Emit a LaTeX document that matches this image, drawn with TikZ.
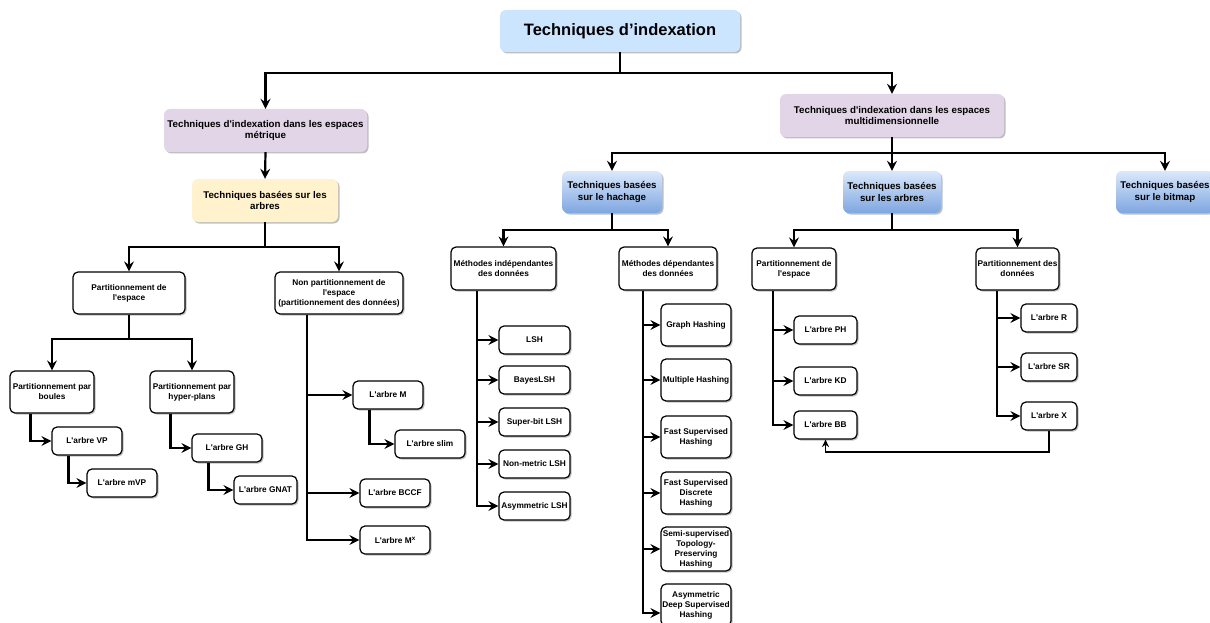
\documentclass[tikz,border=0pt]{standalone}
\usepackage{fontspec}
\setmainfont{Liberation Sans}
\newfontfamily\lib{Liberation Sans}
\usetikzlibrary{arrows.meta,shadows}
\definecolor{rootblue}{HTML}{CCE5FF}
\definecolor{lilac}{HTML}{E1D5E7}
\definecolor{cream}{HTML}{FFF2CC}
\definecolor{bluetop}{HTML}{DAE8FC}
\definecolor{bluebot}{HTML}{7EA6E0}
\begin{document}
\begin{tikzpicture}[x=1pt,y=-1pt,
  shad/.style={drop shadow={shadow xshift=1.5pt,shadow yshift=-1.5pt,opacity=0.25,fill=black}},
  box/.style={draw=black,line width=1.2pt,rounded corners=5pt,fill=white,shad,align=center,inner sep=0pt,font=\lib\bfseries\fontsize{8.3}{10}\selectfont},
  leaf/.style={box,minimum width=70pt,minimum height=28pt},
  tall/.style={box,minimum width=70pt,minimum height=42pt},
  mid/.style={rounded corners=6pt,shad,align=center,inner sep=0pt,font=\lib\bfseries\fontsize{9.75}{11.3}\selectfont,minimum height=43pt},
  bluebox/.style={mid,top color=bluetop,bottom color=bluebot,minimum width=98pt,minimum height=42pt},
  conn/.style={line width=2.2pt,-{Stealth[length=10pt,width=10pt,inset=3.5pt]}},
  thin/.style={line width=1.4pt,-{Stealth[length=7.5pt,width=7pt,inset=2.5pt]}}
]
\useasboundingbox (0,0) rectangle (1210,623);

% top levels
\node[mid,fill=rootblue,minimum width=240pt,minimum height=42pt,font=\lib\bfseries\fontsize{16.5}{19}\selectfont] (root) at (620,31) {Techniques d’indexation};
\node[mid,fill=lilac,minimum width=203pt] (metric) at (265.5,130.5) {Techniques d'indexation dans les espaces\\métrique};
\node[mid,fill=lilac,minimum width=224pt] (multi) at (892,115.5) {Techniques d'indexation dans les espaces\\multidimensionnelle};
\node[mid,fill=cream,minimum width=146pt] (arbL) at (265,200.5) {Techniques basées sur les\\arbres};
\node[bluebox,minimum width=100pt] (hach) at (612,192) {Techniques basées\\sur le hachage};
\node[bluebox] (arbM) at (892,192) {Techniques basées\\sur les arbres};
\node[bluebox] (bitmap) at (1165,192) {Techniques basées\\sur le bitmap};

% metric side
\node[box,minimum width=112pt,minimum height=42pt] (partE) at (129,293) {Partitionnement de\\l'espace};
\node[box,minimum width=128pt,minimum height=42pt] (nonP) at (339,293) {Non partitionnement de\\l'espace\\(partitionnement des données)};
\node[box,minimum width=84pt,minimum height=42pt] (boules) at (52,392) {Partitionnement par\\boules};
\node[box,minimum width=84pt,minimum height=42pt] (hyper) at (192,392) {Partitionnement par\\hyper-plans};
\node[leaf] (vp) at (87,441) {L'arbre VP};
\node[leaf] (mvp) at (122,483) {L'arbre mVP};
\node[leaf] (gh) at (227,448) {L'arbre GH};
\node[leaf,minimum width=63pt] (gnat) at (265.5,490) {L'arbre GNAT};
\node[leaf] (am) at (388,395) {L'arbre M};
\node[leaf] (slim) at (430,444) {L'arbre slim};
\node[leaf] (bccf) at (395,493) {L'arbre BCCF};
\node[leaf] (mx) at (395,540) {L'arbre M\raisebox{3.2pt}{\fontsize{6.2}{6.2}\selectfont x}};

% hashing side
\node[box,minimum width=105pt,minimum height=43pt] (indep) at (503.5,268.5) {Méthodes indépendantes\\des données};
\node[box,minimum width=98pt,minimum height=43pt] (dep) at (668,268.5) {Méthodes dépendantes\\des données};
\node[leaf,minimum width=71pt] (lsh) at (534.5,340) {LSH};
\node[leaf,minimum width=71pt] (bayes) at (534.5,380) {BayesLSH};
\node[leaf,minimum width=71pt] (sbit) at (534.5,422) {Super-bit LSH};
\node[leaf,minimum width=71pt] (nmet) at (534.5,464) {Non-metric LSH};
\node[leaf,minimum width=71pt] (alsh) at (534.5,506) {Asymmetric LSH};
\node[tall] (graph) at (696,325) {Graph Hashing};
\node[tall] (multh) at (696,380) {Multiple Hashing};
\node[tall] (fsh) at (696,437) {Fast Supervised\\Hashing};
\node[tall] (fsdh) at (696,493) {Fast Supervised\\Discrete\\Hashing};
\node[tall,minimum height=44pt] (semi) at (696,549) {Semi-supervised\\Topology-\\Preserving\\Hashing};
\node[tall] (adsh) at (696,605) {Asymmetric\\Deep Supervised\\Hashing};

% multidim trees side
\node[box,minimum width=84pt,minimum height=42pt] (partS) at (794,269) {Partitionnement de\\l'espace};
\node[box,minimum width=83pt,minimum height=42pt] (partD) at (1017.5,269) {Partitionnement des\\données};
\node[leaf,minimum width=63pt] (ph) at (825.5,330) {L'arbre PH};
\node[leaf,minimum width=63pt] (kd) at (825.5,381) {L'arbre KD};
\node[leaf,minimum width=63pt] (bb) at (825.5,425) {L'arbre BB};
\node[leaf,minimum width=56pt] (ar) at (1049,318) {L'arbre R};
\node[leaf,minimum width=56pt] (sr) at (1049,367) {L'arbre SR};
\node[leaf,minimum width=56pt] (ax) at (1049,416) {L'arbre X};

% junctions
\coordinate (j0) at (620,73);
\coordinate (j1) at (265,247);
\coordinate (j2) at (129,339);
\coordinate (j3) at (892,153);
\coordinate (j4) at (612,230);
\coordinate (j5) at (892,230);
\coordinate (t1) at (307,0);
\coordinate (t2) at (477,0);
\coordinate (t3) at (643,0);
\coordinate (t4) at (773,0);
\coordinate (t5) at (997,0);
\coordinate (j9) at (0,452);

% tree connectors
\draw[conn] (root.south) -- (j0) -| (metric.north);
\draw[conn] (root.south) -- (j0) -| (multi.north);
\draw[conn] (metric.south) -- (arbL.north);
\draw[conn] (arbL.south) -- (j1) -| (partE.north);
\draw[conn] (arbL.south) -- (j1) -| (nonP.north);
\draw[conn] (partE.south) -- (j2) -| (boules.north);
\draw[conn] (partE.south) -- (j2) -| (hyper.north);
\draw[conn] ([xshift=21pt]boules.south west) |- (vp.west);
\draw[conn] ([xshift=17pt]vp.south west) |- (mvp.west);
\draw[conn] ([xshift=21pt]hyper.south west) |- (gh.west);
\draw[conn] ([xshift=17pt]gh.south west) |- (gnat.west);
\draw[conn] (nonP.south -| t1) |- (mx.west);
\draw[conn] (am.west -| t1) -- (am.west);
\draw[conn] (bccf.west -| t1) -- (bccf.west);
\draw[conn] ([xshift=17pt]am.south west) |- (slim.west);

\draw[conn] (multi.south) -- (j3) -| (hach.north);
\draw[conn] (multi.south) -- (j3) -- (arbM.north);
\draw[conn] (multi.south) -- (j3) -| (bitmap.north);
\draw[conn] (hach.south) -- (j4) -| (indep.north);
\draw[conn] (hach.south) -- (j4) -| (dep.north);
\draw[conn] (arbM.south) -- (j5) -| (partS.north);
\draw[conn] (arbM.south) -- (j5) -| (partD.north);

\draw[conn] (indep.south -| t2) |- (alsh.west);
\draw[conn] (lsh.west -| t2) -- (lsh.west);
\draw[conn] (bayes.west -| t2) -- (bayes.west);
\draw[conn] (sbit.west -| t2) -- (sbit.west);
\draw[conn] (nmet.west -| t2) -- (nmet.west);

\draw[conn] (dep.south -| t3) |- ([yshift=-8pt]adsh.west);
\draw[conn] (graph.west -| t3) -- (graph.west);
\draw[conn] (multh.west -| t3) -- (multh.west);
\draw[conn] (fsh.west -| t3) -- (fsh.west);
\draw[conn] (fsdh.west -| t3) -- (fsdh.west);
\draw[conn] (semi.west -| t3) -- (semi.west);

\draw[conn] (partS.south -| t4) |- (bb.west);
\draw[conn] (ph.west -| t4) -- (ph.west);
\draw[conn] (kd.west -| t4) -- (kd.west);
\draw[conn] (partD.south -| t5) |- (ax.west);
\draw[conn] (ar.west -| t5) -- (ar.west);
\draw[conn] (sr.west -| t5) -- (sr.west);

\draw[thin] (ax.south) -- (ax.south |- j9) -| (bb.south);
\end{tikzpicture}
\end{document}
